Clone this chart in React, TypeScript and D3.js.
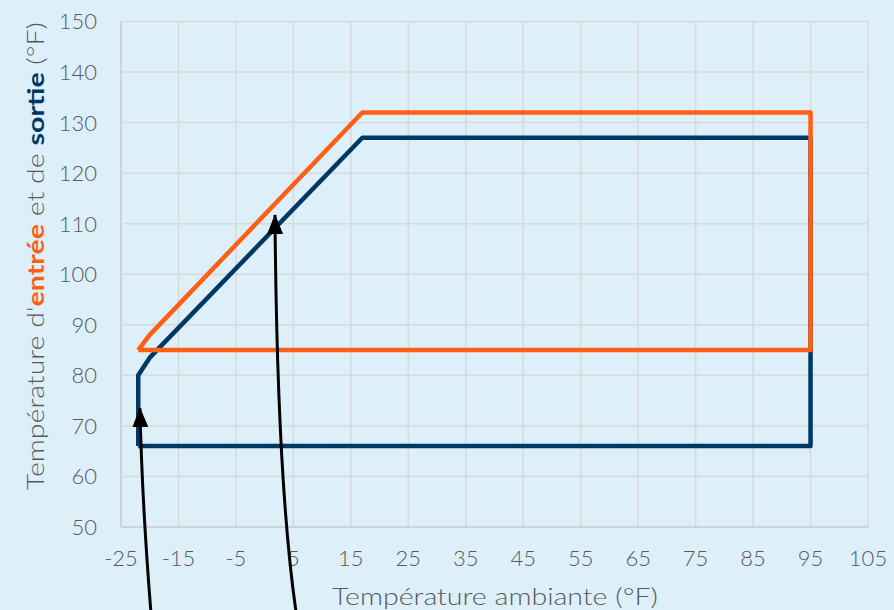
import React from "react";
import * as d3 from "d3";

const xTicks = [-25, -15, -5, 5, 15, 25, 35, 45, 55, 65, 75, 85, 95, 105];
const yTicks = [50, 60, 70, 80, 90, 100, 110, 120, 130, 140, 150];

// outlet (sortie) envelope
const sortieX = [-22, -22, -20, 17, 95, 95, -22];
const sortieY = [66, 80, 83.5, 127, 127, 66, 66];
// inlet (entrée) envelope
const entreeX = [-22, -20, 17, 95, 95, -22];
const entreeY = [85, 88, 132, 132, 85, 85];

// annotation arrows: [start, control, tip] in data units
const arrow1 = [[-19.8, 33.2], [-21.35, 55.3], [-21.7, 73.5]];
const arrow2 = [[5.46, 33.2], [2.15, 59.3], [1.8, 111.7]];

const W = 894;
const H = 610;
const BLUE = "#003865";
const ORANGE = "#ff5f15";
const GRID = "#d9d9d9";
const TXT = "#595959";

export default function App() {
  const x = d3.scaleLinear().domain([-25, 105]).range([121, 868]);
  const y = d3.scaleLinear().domain([50, 150]).range([527, 21.5]);

  const line = d3
    .line<number[]>()
    .x((d) => x(d[0]))
    .y((d) => y(d[1]));

  const sortie = sortieX.map((v, i) => [v, sortieY[i]]);
  const entree = entreeX.map((v, i) => [v, entreeY[i]]);

  const arrowPath = (a: number[][]) => {
    const p = d3.path();
    p.moveTo(x(a[0][0]), y(a[0][1]));
    p.quadraticCurveTo(x(a[1][0]), y(a[1][1]), x(a[2][0]), y(a[2][1]));
    return p.toString();
  };

  const font = "Lato, 'Open Sans', sans-serif";

  return (
    <svg
      width={W}
      height={H}
      style={{ position: "absolute", left: 0, top: 0, display: "block" }}
      fontFamily={font}
      fontWeight={300}
    >
      <defs>
        <marker
          id="ah"
          markerUnits="userSpaceOnUse"
          viewBox="0 0 20 16"
          refX="19"
          refY="8"
          markerWidth="20"
          markerHeight="16"
          orient="auto"
        >
          <path d="M0,0 L20,8 L0,16 Z" fill="#000" />
        </marker>
      </defs>
      <rect x={0} y={0} width={W} height={H} fill="#ddeff9" />
      {/* grid */}
      {xTicks.map((t) => (
        <line
          key={"gx" + t}
          x1={x(t)}
          x2={x(t)}
          y1={y(150)}
          y2={y(50)}
          stroke={t === -25 ? "#c8c8c8" : GRID}
          strokeWidth={1.5}
        />
      ))}
      {yTicks.map((t) => (
        <line
          key={"gy" + t}
          x1={x(-25)}
          x2={x(105)}
          y1={y(t)}
          y2={y(t)}
          stroke={t === 50 ? "#c8c8c8" : GRID}
          strokeWidth={1.5}
        />
      ))}
      {/* tick labels */}
      {xTicks.map((t) => (
        <text
          key={"tx" + t}
          x={x(t)}
          y={566}
          textAnchor="middle"
          fontSize={22}
          fill={TXT}
        >
          {t}
        </text>
      ))}
      {yTicks.map((t) => (
        <text
          key={"ty" + t}
          x={97}
          y={y(t)}
          dy="0.36em"
          textAnchor="end"
          fontSize={22}
          fill={TXT}
        >
          {t}
        </text>
      ))}
      {/* axis titles */}
      <text
        x={495}
        y={605}
        textAnchor="middle"
        fontSize={24}
        fill={TXT}
        textLength={326}
        lengthAdjust="spacingAndGlyphs"
      >
        Température ambiante (°F)
      </text>
      <text
        transform={`translate(44, 256) rotate(-90)`}
        textAnchor="middle"
        fontSize={23}
        fill={TXT}
        textLength={468}
        lengthAdjust="spacingAndGlyphs"
      >
        <tspan>Température d'</tspan>
        <tspan fill={ORANGE} fontWeight="bold">entrée</tspan>
        <tspan> et de </tspan>
        <tspan fill={BLUE} fontWeight="bold">sortie</tspan>
        <tspan> (°F)</tspan>
      </text>
      {/* envelopes */}
      <path
        d={line(sortie) || ""}
        fill="none"
        stroke={BLUE}
        strokeWidth={4.5}
        strokeLinejoin="round"
      />
      <path
        d={line(entree) || ""}
        fill="none"
        stroke={ORANGE}
        strokeWidth={4.5}
        strokeLinejoin="round"
      />
      {/* arrows */}
      <path
        d={arrowPath(arrow1)}
        fill="none"
        stroke="#000"
        strokeWidth={3}
        markerEnd="url(#ah)"
      />
      <path
        d={arrowPath(arrow2)}
        fill="none"
        stroke="#000"
        strokeWidth={3}
        markerEnd="url(#ah)"
      />
    </svg>
  );
}
